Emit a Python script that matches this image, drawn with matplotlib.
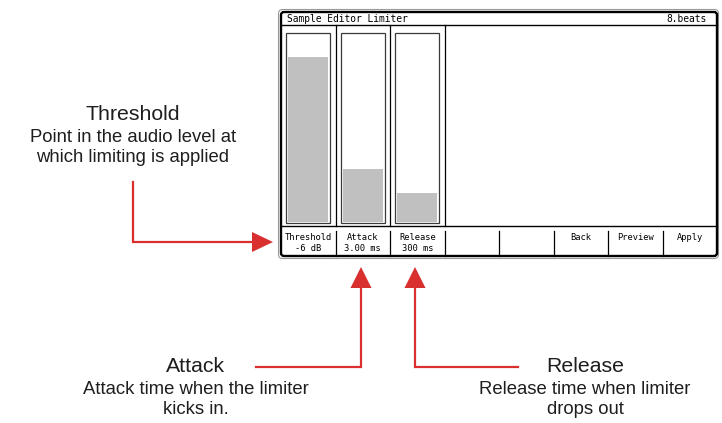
#!/usr/bin/env python

import numpy as np
import matplotlib as mpl
mpl.use('Agg')
import matplotlib.pyplot as plt
from matplotlib.patches import FancyBboxPatch, Rectangle

# screen content
title = 'Sample Editor Limiter'
beats = '8.beats'
params = ['Threshold', 'Attack', 'Release']
param_values = ['-6 dB', '3.00 ms', '300 ms']
levels = [0.88, 0.28, 0.155]          # fill fraction of each slider
buttons = ['', '', 'Back', 'Preview', 'Apply']

# callouts
notes = ['Threshold', 'Attack', 'Release']
note_text = [['Point in the audio level at', 'which limiting is applied'],
             ['Attack time when the limiter', 'kicks in.'],
             ['Release time when limiter', 'drops out']]

RED = '#d92f2f'
INK = '#1e1e1e'
MONO = 'DejaVu Sans Mono'
SANS = 'Liberation Sans'

fig = plt.figure(figsize=(7.22, 4.23), dpi=100)
ax = fig.add_axes([0, 0, 1, 1])
ax.set_xlim(0, 722)
ax.set_ylim(423, 0)
ax.axis('off')

# screen frame
x0, x1, y0, y1 = 281, 717, 12, 256
ax.add_patch(FancyBboxPatch((278.5, 9.5), 440, 249, boxstyle='round,pad=0,rounding_size=4',
                            fc='white', ec='#9a9a9a', lw=0.8))
ax.add_patch(FancyBboxPatch((x0, y0), x1 - x0, y1 - y0, boxstyle='round,pad=0,rounding_size=3',
                            fc='white', ec='black', lw=1.7))

# title bar
ax.plot([x0, x1], [25, 25], color='black', lw=1.0)
ax.text(287, 18.5, title, fontsize=6.9, family=MONO, va='center', ha='left', color='black')
ax.text(707, 18.5, beats, fontsize=6.9, family=MONO, va='center', ha='right', color='black')

# soft key bar
ybar = 226
ax.plot([x0, x1], [ybar, ybar], color='black', lw=1.0)
colw = (x1 - x0) / 8.0
for i in range(1, 8):
    xx = x0 + colw * i
    ax.plot([xx, xx], [231, y1], color='black', lw=0.9)
for i in range(1, 4):
    xx = x0 + colw * i
    ax.plot([xx, xx], [25, ybar], color='black', lw=0.9)

# sliders
top, bot = 33, 223
centers = [x0 + colw * (i + 0.5) for i in range(len(params))]
for i, (p, v) in enumerate(zip(params, param_values)):
    c = centers[i]
    ax.add_patch(Rectangle((c - 22, top), 44, bot - top, fc='white', ec='#3a3a3a', lw=0.9))
    ax.text(c, 237.5, p, fontsize=6.3, family=MONO, ha='center', va='center', color='black')
    ax.text(c, 248.5, v, fontsize=6.3, family=MONO, ha='center', va='center', color='black')
fill_h = (bot - 1) - (top + 1)
ax.bar(centers, -np.array(levels) * fill_h, bottom=bot - 1, width=40,
       color='#c0c0c0', edgecolor='none')

for j, b in enumerate(buttons):
    c = x0 + colw * (j + 3.5)
    ax.text(c, 237.5, b, fontsize=6.3, family=MONO, ha='center', va='center', color='black')

# callout arrows
def arrow(xs, ys, tip, d):
    ax.plot(xs, ys, color=RED, lw=1.6, solid_joinstyle='miter')
    tx, ty = tip
    if d == 'right':
        tri = [(tx - 21, ty - 10), (tx - 21, ty + 10), (tx, ty)]
    else:
        tri = [(tx - 10.5, ty + 21), (tx + 10.5, ty + 21), (tx, ty)]
    ax.fill(*zip(*tri), color=RED, lw=0)

arrow([133, 133, 253], [182, 242, 242], (273, 242), 'right')
arrow([256, 361, 361], [367, 367, 289], (361, 267), 'up')
arrow([518, 415, 415], [367, 367, 289], (415, 267), 'up')

# callout text
pos = [(133, 115), (196, 367), (585, 367)]
for (cx, cy), n, lines in zip(pos, notes, note_text):
    ax.text(cx, cy, n, fontsize=15.3, family=SANS, ha='center', va='center', color=INK)
    for k, t in enumerate(lines):
        ax.text(cx, cy + 22.5 + 20.5 * k, t, fontsize=13.3, family=SANS, ha='center',
                va='center', color=INK)

plt.savefig('out.png', dpi=100)
